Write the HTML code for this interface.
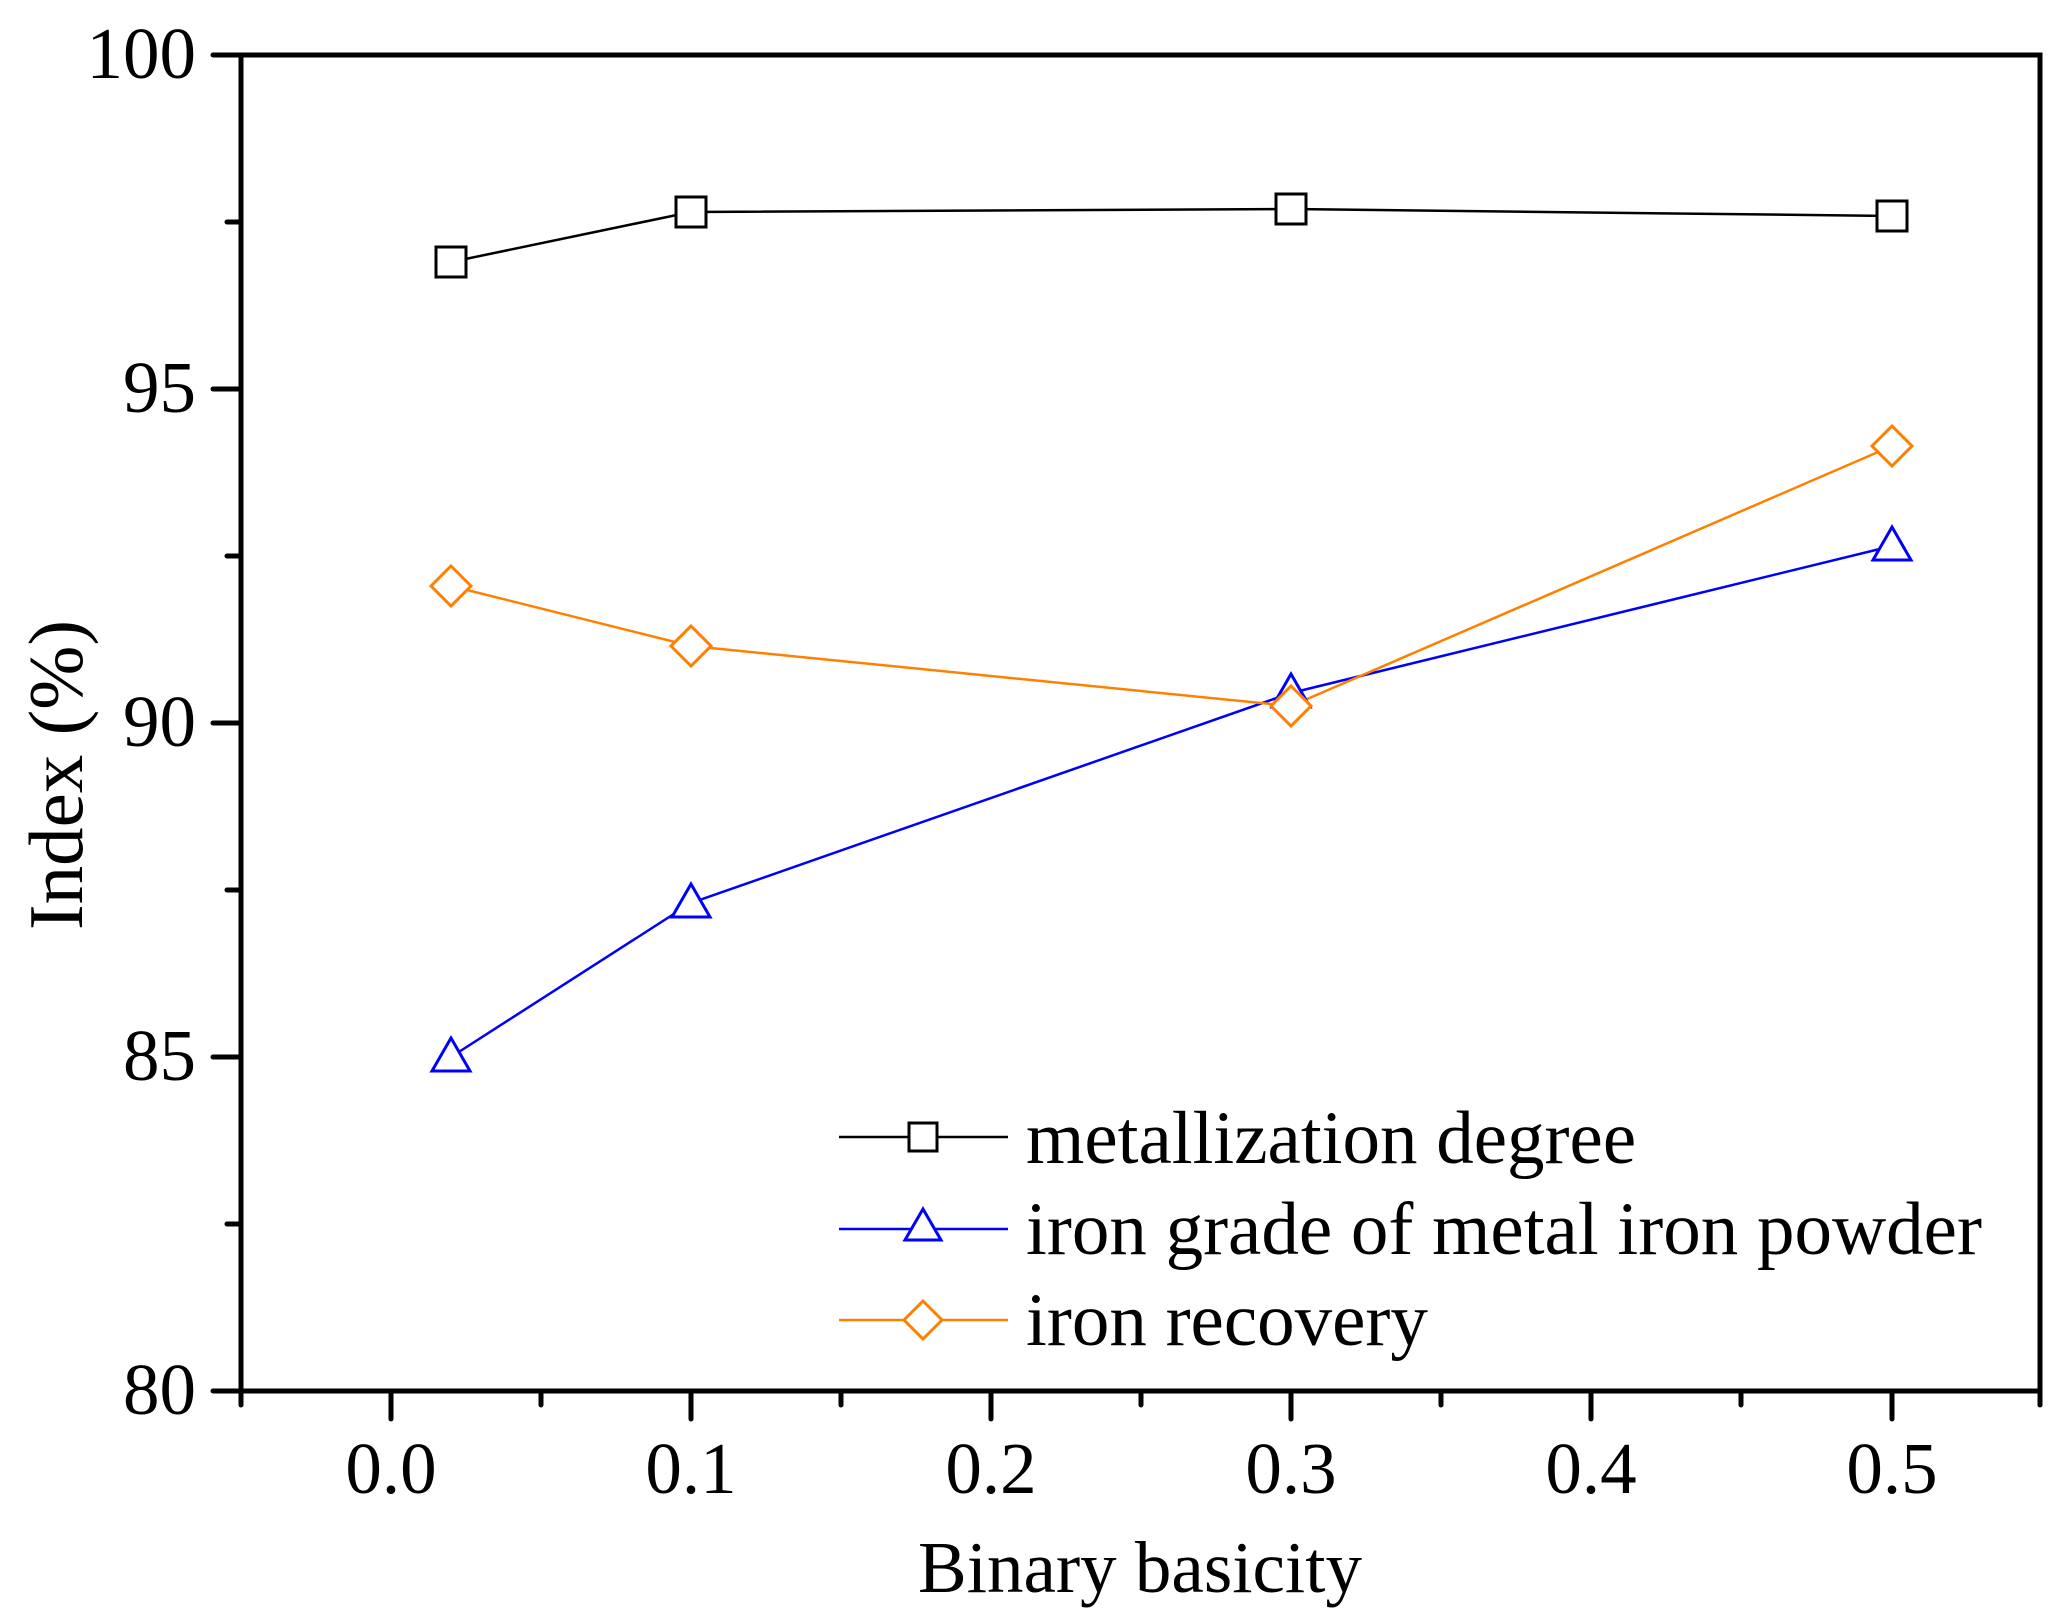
<!DOCTYPE html>
<html><head><meta charset="utf-8"><style>
html,body{margin:0;padding:0;background:#fff;}
svg{display:block;}
text{font-family:"Liberation Serif",serif;fill:#000;}
</style></head><body>
<svg width="2066" height="1623" viewBox="0 0 2066 1623" xmlns="http://www.w3.org/2000/svg">
<rect width="2066" height="1623" fill="#fff"/>
<g stroke="#000" stroke-width="5" stroke-linecap="round">
<line x1="213" y1="55" x2="241" y2="55"/>
<line x1="227" y1="222" x2="241" y2="222"/>
<line x1="213" y1="389" x2="241" y2="389"/>
<line x1="227" y1="556" x2="241" y2="556"/>
<line x1="213" y1="723" x2="241" y2="723"/>
<line x1="227" y1="890" x2="241" y2="890"/>
<line x1="213" y1="1057" x2="241" y2="1057"/>
<line x1="227" y1="1224" x2="241" y2="1224"/>
<line x1="213" y1="1391" x2="241" y2="1391"/>
<line x1="241" y1="1391" x2="241" y2="1405"/>
<line x1="391" y1="1391" x2="391" y2="1419"/>
<line x1="541" y1="1391" x2="541" y2="1405"/>
<line x1="691" y1="1391" x2="691" y2="1419"/>
<line x1="841" y1="1391" x2="841" y2="1405"/>
<line x1="991" y1="1391" x2="991" y2="1419"/>
<line x1="1141" y1="1391" x2="1141" y2="1405"/>
<line x1="1291" y1="1391" x2="1291" y2="1419"/>
<line x1="1441" y1="1391" x2="1441" y2="1405"/>
<line x1="1591" y1="1391" x2="1591" y2="1419"/>
<line x1="1741" y1="1391" x2="1741" y2="1405"/>
<line x1="1892" y1="1391" x2="1892" y2="1419"/>
<line x1="2040" y1="1391" x2="2040" y2="1405"/>
</g>
<rect x="241" y="55" width="1799" height="1336" fill="none" stroke="#000" stroke-width="5"/>
<g font-size="73" text-anchor="end">
<text x="196" y="78">100</text>
<text x="196" y="412">95</text>
<text x="196" y="746">90</text>
<text x="196" y="1080">85</text>
<text x="196" y="1414">80</text>
</g>
<g font-size="73" text-anchor="middle">
<text x="391" y="1493">0.0</text>
<text x="691" y="1493">0.1</text>
<text x="991" y="1493">0.2</text>
<text x="1291" y="1493">0.3</text>
<text x="1591" y="1493">0.4</text>
<text x="1892" y="1493">0.5</text>
</g>
<text x="1140" y="1592" font-size="73" text-anchor="middle">Binary basicity</text>
<text transform="translate(82,775) rotate(-90)" font-size="77" text-anchor="middle">Index (%)</text>
<polyline fill="none" stroke="#000" stroke-width="2.5" points="451,262 691,212 1291,209 1892,216"/>
<polyline fill="none" stroke="#0000ff" stroke-width="2.5" points="451,1057 691,903 1291,693 1892,546"/>
<polyline fill="none" stroke="#ff8000" stroke-width="2.5" points="451,586 691,646 1291,706 1892,446"/>
<g fill="#fff" stroke="#000" stroke-width="3">
<rect x="436" y="247" width="30" height="30"/>
<rect x="676" y="197" width="30" height="30"/>
<rect x="1276" y="194" width="30" height="30"/>
<rect x="1877" y="201" width="30" height="30"/>
</g>
<g fill="#fff" stroke="#0000ff" stroke-width="3">
<polygon points="451,1038 470,1071 432,1071"/>
<polygon points="691,884 710,917 672,917"/>
<polygon points="1291,674 1310,707 1272,707"/>
<polygon points="1892,527 1911,560 1873,560"/>
</g>
<g fill="#fff" stroke="#ff8000" stroke-width="3">
<polygon points="451,566 471,586 451,606 431,586"/>
<polygon points="691,626 711,646 691,666 671,646"/>
<polygon points="1291,686 1311,706 1291,726 1271,706"/>
<polygon points="1892,426 1912,446 1892,466 1872,446"/>
</g>
<line x1="839" y1="1137" x2="1008" y2="1137" stroke="#000" stroke-width="2.5"/>
<rect x="909" y="1123" width="28" height="28" fill="#fff" stroke="#000" stroke-width="3"/>
<line x1="839" y1="1229" x2="1008" y2="1229" stroke="#0000ff" stroke-width="2.5"/>
<polygon points="923,1209 941,1240 905,1240" fill="#fff" stroke="#0000ff" stroke-width="3"/>
<line x1="839" y1="1320" x2="1008" y2="1320" stroke="#ff8000" stroke-width="2.5"/>
<polygon points="923,1301 942,1320 923,1339 904,1320" fill="#fff" stroke="#ff8000" stroke-width="3"/>
<g font-size="75">
<text x="1026" y="1163">metallization degree</text>
<text x="1026" y="1254">iron grade of metal iron powder</text>
<text x="1026" y="1345">iron recovery</text>
</g>
</svg>
</body></html>
